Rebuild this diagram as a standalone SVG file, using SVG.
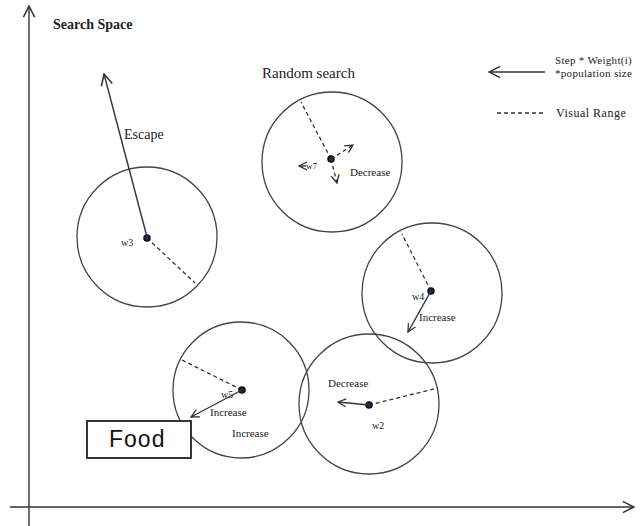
<svg xmlns="http://www.w3.org/2000/svg" width="640" height="526" viewBox="0 0 640 526">
<style>
.ln{stroke:#333;stroke-width:1.4;fill:none}
.ds{stroke:#333;stroke-width:1.3;fill:none;stroke-dasharray:4,3}
.c{stroke:#444;stroke-width:1.3;fill:none}
.t{font-family:"Liberation Serif",serif;fill:#222}
.dot{fill:#1a2a44;stroke:#0b1020;stroke-width:1.5}
</style>
<defs>
<marker id="ah" viewBox="0 0 10 10" refX="9" refY="5" markerWidth="10" markerHeight="10" markerUnits="userSpaceOnUse" orient="auto"><path d="M1,1 L9,5 L1,9" fill="none" stroke="#333" stroke-width="1.3"/></marker>
<marker id="ahb" viewBox="0 0 10 10" refX="9" refY="5" markerWidth="14" markerHeight="14" markerUnits="userSpaceOnUse" orient="auto"><path d="M1,1 L9,5 L1,9" fill="none" stroke="#333" stroke-width="1.1"/></marker>
</defs>
<rect width="640" height="526" fill="#fff"/>
<g id="axes">
<line class="ln" x1="29" y1="526" x2="29" y2="6" marker-end="url(#ahb)"/>
<line class="ln" x1="10" y1="507" x2="634" y2="507" marker-end="url(#ahb)"/>
<text class="t" x="53" y="29" font-size="14" font-weight="bold">Search Space</text>
</g>
<g id="legend">
<line class="ln" x1="545" y1="72" x2="489" y2="72" marker-end="url(#ahb)"/>
<text class="t" x="555" y="64" font-size="11" letter-spacing="0.3">Step * Weight(i)</text>
<text class="t" x="555" y="77" font-size="11" letter-spacing="0.3">*population size</text>
<line class="ds" x1="497" y1="113" x2="545" y2="113" stroke-dasharray="3,2"/>
<text class="t" x="556" y="117" font-size="12" letter-spacing="0.5">Visual Range</text>
</g>
<g id="w3">
<circle class="c" cx="147" cy="237" r="70"/>
<line class="ds" x1="147" y1="238" x2="195" y2="283"/>
<text class="t" x="121" y="246" font-size="10">w3</text>
<circle class="dot" cx="147" cy="238" r="3"/>
<text class="t" x="124" y="139" font-size="14">Escape</text>
</g>
<g id="w7">
<text class="t" x="262" y="78" font-size="15">Random search</text>
<circle class="c" cx="332" cy="162" r="70"/>
<line class="ds" x1="331" y1="159" x2="301" y2="102"/>
<text class="t" x="306" y="169" font-size="9">w7</text>
<circle class="dot" cx="331" cy="159" r="3"/>
<text class="t" x="350" y="176" font-size="11">Decrease</text>
</g>
<g id="w4">
<circle class="c" cx="432" cy="293" r="70"/>
<line class="ds" x1="431" y1="291" x2="402" y2="234"/>
<text class="t" x="412" y="300" font-size="10">w4</text>
<circle class="dot" cx="431" cy="291" r="3"/>
<text class="t" x="419" y="321" font-size="11">Increase</text>
</g>
<g id="w5">
<circle class="c" cx="241" cy="390" r="68"/>
<line class="ds" x1="242" y1="390" x2="182" y2="360"/>
<text class="t" x="221" y="398" font-size="10">w5</text>
<circle class="dot" cx="242" cy="390" r="3"/>
<text class="t" x="210" y="416" font-size="11">Increase</text>
<text class="t" x="232" y="437" font-size="11">Increase</text>
</g>
<g id="w2">
<circle class="c" cx="369" cy="404" r="70"/>
<line class="ds" x1="369" y1="405" x2="438" y2="388"/>
<circle class="dot" cx="369" cy="405" r="3"/>
<text class="t" x="328" y="387" font-size="11">Decrease</text>
<text class="t" x="372" y="429" font-size="10">w2</text>
</g>
<g id="food">
<rect x="87" y="421" width="104" height="37" fill="#fff" stroke="#222" stroke-width="1.8"/>
<text x="109" y="447" font-family="'Liberation Sans',Arial,sans-serif" font-size="23" letter-spacing="1" fill="#111">Food</text>
</g>
<g id="connectors">
<line class="ln" x1="147" y1="237" x2="104" y2="74" marker-end="url(#ahb)"/>
<line class="ds" x1="331" y1="159" x2="353" y2="145" marker-end="url(#ah)"/>
<line class="ds" x1="331" y1="159" x2="337" y2="183" marker-end="url(#ah)"/>
<line class="ln" x1="306" y1="166" x2="299" y2="166" stroke-width="1" marker-end="url(#ah)"/>
<line class="ln" x1="431" y1="291" x2="408" y2="332" marker-end="url(#ah)"/>
<line class="ln" x1="242" y1="390" x2="191" y2="417" marker-end="url(#ah)"/>
<line class="ln" x1="369" y1="405" x2="338" y2="402" marker-end="url(#ah)"/>
</g>
</svg>
